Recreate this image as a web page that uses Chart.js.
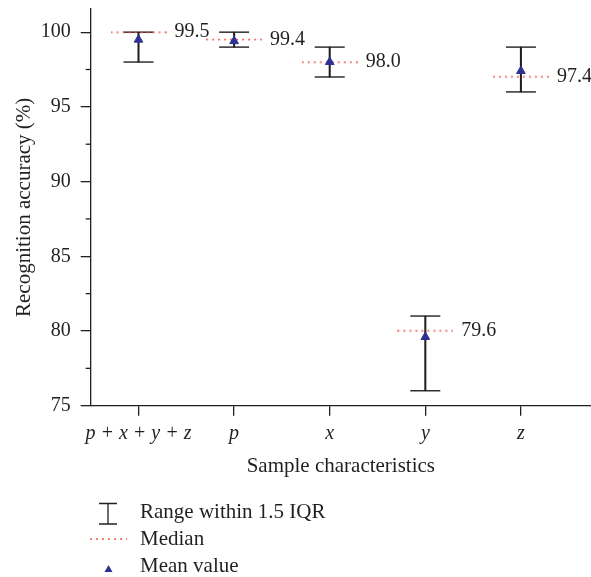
<!DOCTYPE html>
<html>
<head>
<meta charset="utf-8">
<script src="https://cdn.jsdelivr.net/npm/chart.js@4.4.1/dist/chart.umd.min.js"></script>
<style>
  html, body { margin: 0; padding: 0; background: #fff; }
  #wrap { width: 591px; height: 577px; }
</style>
</head>
<body>
<div id="wrap"><canvas id="chart"></canvas></div>
<script>
// data
const categories = ["p + x + y + z", "p", "x", "y", "z"];
const rangeLow  = [98, 99, 97, 76, 96];
const rangeHigh = [100, 100, 99, 81, 99];
const medians   = [100, 99.5, 98, 80, 97];
const means     = [99.5, 99.4, 98.0, 79.6, 97.4];
const yTicks      = [75, 80, 85, 90, 95, 100];
const yMinorTicks = [77.5, 82.5, 87.5, 92.5, 97.5];

const ink = "#231f20";
const medianRed = "#f05a48";
const meanBlue = "#2e3192";
const serif = '"Liberation Serif", "DejaVu Serif", serif';

Chart.defaults.font.family = serif;
Chart.defaults.color = ink;

// dotted median line used as point style
function dottedLine(w) {
    const c = document.createElement("canvas");
    c.width = w; c.height = 3;
    const g = c.getContext("2d");
    g.strokeStyle = medianRed;
    g.lineWidth = 1.5;
    g.setLineDash([2, 4]);
    g.beginPath(); g.moveTo(0, 1.5); g.lineTo(w, 1.5); g.stroke();
    return c;
}

const toPoints = arr => arr.map((v, i) => ({ x: i + 1, y: v }));

// minor ticks, value labels and the legend
const extras = {
    id: "extras",
    afterDatasetsDraw(chart) {
        const { ctx, scales: { x, y } } = chart;
        ctx.save();
        ctx.strokeStyle = ink;
        ctx.lineWidth = 1.3;
        yMinorTicks.forEach(v => {
            const py = y.getPixelForValue(v);
            ctx.beginPath(); ctx.moveTo(x.left - 5, py); ctx.lineTo(x.left, py); ctx.stroke();
        });

        ctx.fillStyle = ink;
        ctx.font = "20px " + serif;
        ctx.textBaseline = "middle";
        ctx.textAlign = "left";
        means.forEach((m, i) => {
            ctx.fillText(m.toFixed(1), x.getPixelForValue(i + 1) + 36, y.getPixelForValue(medians[i]));
        });
        ctx.restore();
    },
    afterDraw(chart) {
        const ctx = chart.ctx;
        ctx.save();
        // error bar icon
        ctx.strokeStyle = ink;
        ctx.lineWidth = 1.3;
        ctx.beginPath();
        ctx.moveTo(99, 503.5); ctx.lineTo(117, 503.5);
        ctx.moveTo(108, 503.5); ctx.lineTo(108, 524);
        ctx.moveTo(99, 524); ctx.lineTo(117, 524);
        ctx.stroke();
        // median icon
        ctx.strokeStyle = medianRed;
        ctx.lineWidth = 1.5;
        ctx.setLineDash([2, 4]);
        ctx.beginPath(); ctx.moveTo(90, 539); ctx.lineTo(127, 539); ctx.stroke();
        ctx.setLineDash([]);
        // mean icon
        ctx.fillStyle = meanBlue;
        ctx.beginPath();
        ctx.moveTo(108.5, 565); ctx.lineTo(112.5, 572); ctx.lineTo(104.5, 572);
        ctx.closePath(); ctx.fill();

        ctx.fillStyle = ink;
        ctx.font = "21px " + serif;
        ctx.textBaseline = "middle";
        ctx.textAlign = "left";
        ctx.fillText("Range within 1.5 IQR", 140, 512);
        ctx.fillText("Median", 140, 539);
        ctx.fillText("Mean value", 140, 566);
        ctx.restore();
    }
};

new Chart(document.getElementById("chart"), {
    type: "scatter",
    data: {
        datasets: [
            {
                label: "Mean value",
                data: toPoints(means),
                pointStyle: "triangle",
                radius: 5,
                backgroundColor: meanBlue,
                borderColor: meanBlue,
                borderWidth: 1,
                order: 1
            },
            {
                label: "Median",
                data: toPoints(medians),
                pointStyle: dottedLine(56),
                order: 2
            },
            {
                label: "Upper",
                data: toPoints(rangeHigh),
                pointStyle: "line",
                radius: 15,
                borderColor: ink,
                borderWidth: 1.4,
                order: 3
            },
            {
                label: "Lower",
                data: toPoints(rangeLow),
                pointStyle: "line",
                radius: 15,
                borderColor: ink,
                borderWidth: 1.4,
                order: 3
            },
            {
                type: "bar",
                label: "Range within 1.5 IQR",
                data: rangeLow.map((lo, i) => ({ x: i + 1, y: [lo, rangeHigh[i]] })),
                backgroundColor: ink,
                borderWidth: 0,
                barThickness: 1.4,
                order: 4
            }
        ]
    },
    options: {
        responsive: true,
        maintainAspectRatio: false,
        animation: false,
        clip: false,
        layout: { autoPadding: false, padding: { left: 7.4, right: 0, top: 9, bottom: 94.4 } },
        plugins: {
            legend: { display: false },
            tooltip: { enabled: false }
        },
        scales: {
            x: {
                type: "linear",
                min: 0.5,
                max: 5.733,
                offset: false,
                afterBuildTicks: s => { s.ticks = categories.map((c, i) => ({ value: i + 1 })); },
                afterFit: s => { s.height = 76.9; s.paddingLeft = 0; s.paddingRight = 0; },
                grid: { offset: false, drawOnChartArea: false, tickLength: 10, color: ink, lineWidth: 1.3 },
                border: { color: ink, width: 1.3 },
                ticks: {
                    callback: (v, i) => categories[i],
                    font: { size: 20, style: "italic" },
                    padding: 6,
                    maxRotation: 0,
                    autoSkip: false
                },
                title: { display: true, text: "Sample characteristics", font: { size: 21 }, padding: 4 }
            },
            y: {
                min: 75,
                max: 101.55,
                afterBuildTicks: s => { s.ticks = yTicks.map(v => ({ value: v })); },
                afterFit: s => { s.width = 83.3; s.paddingTop = 0; s.paddingBottom = 0; },
                grid: { drawOnChartArea: false, tickLength: 10, color: ink, lineWidth: 1.3 },
                border: { color: ink, width: 1.3 },
                ticks: { font: { size: 20 }, padding: 10 },
                title: { display: true, text: "Recognition accuracy (%)", font: { size: 21 }, padding: 4 }
            }
        }
    },
    plugins: [extras]
});
</script>
</body>
</html>
